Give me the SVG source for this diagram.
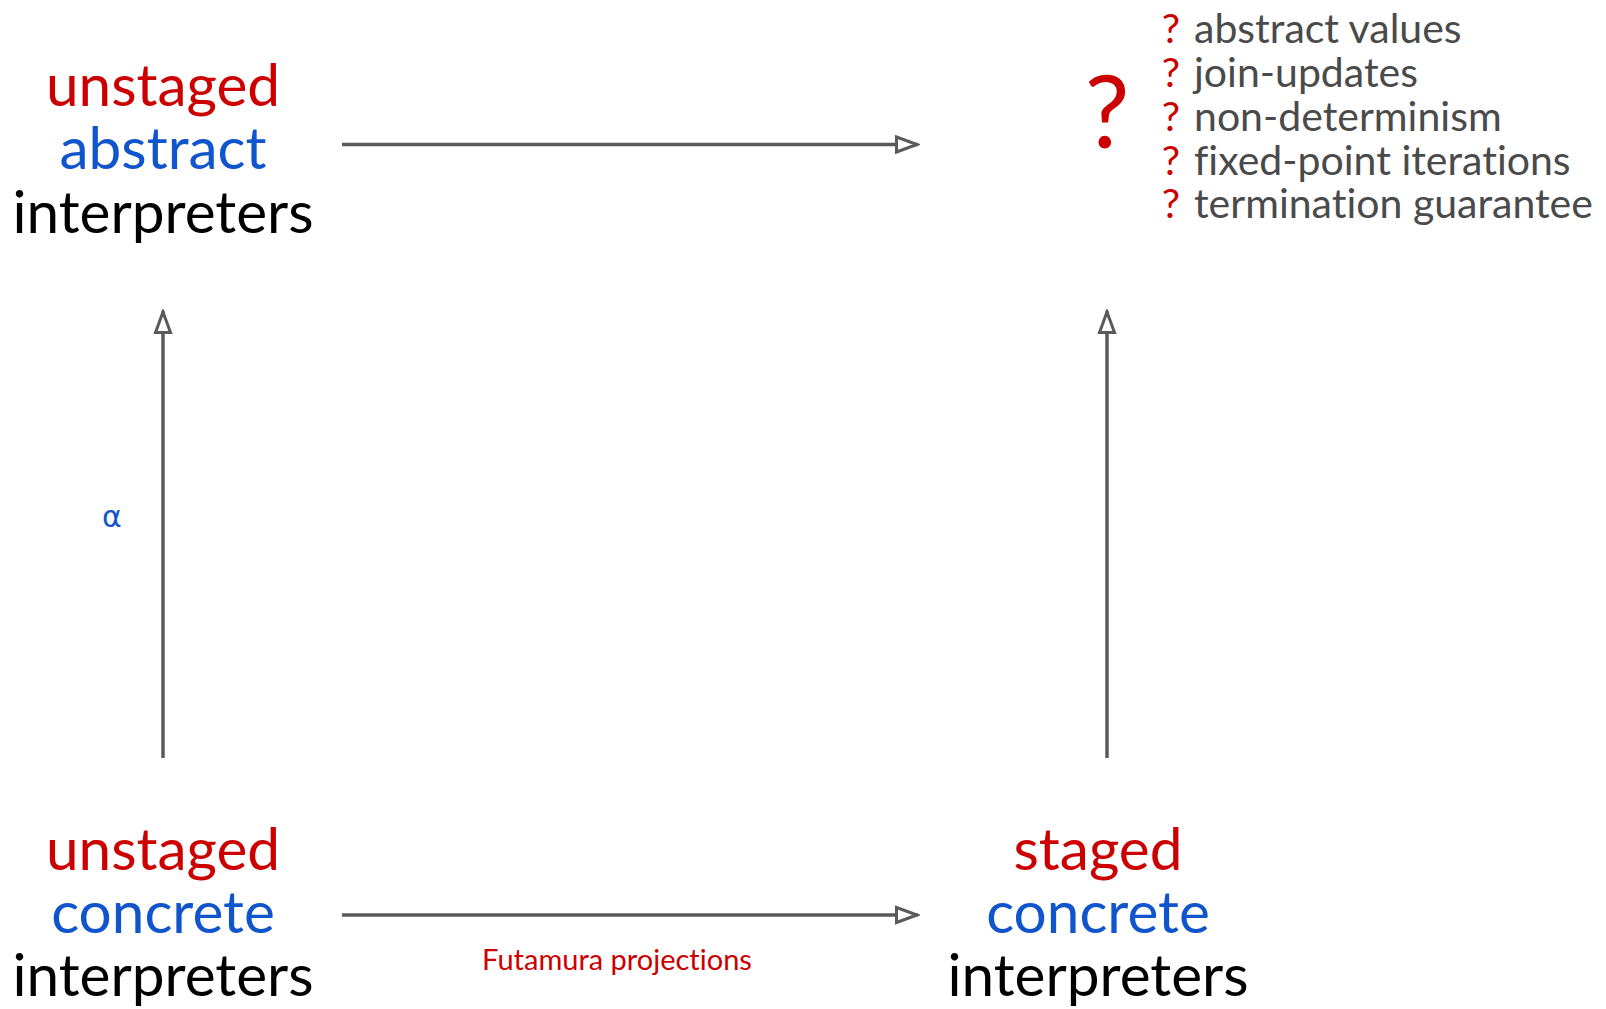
<svg xmlns="http://www.w3.org/2000/svg" width="1606" height="1009" viewBox="0 0 1606 1009">
  <style>
    text { font-family: Lato, "Open Sans", "DejaVu Sans", sans-serif; font-variant-ligatures: none; }
    .big { font-size: 58.5px; text-anchor: middle; }
    .red { fill: #cc0000; }
    .blue { fill: #1155cc; }
    .black { fill: #000000; }
    .item { font-size: 41px; fill: #4a4a4a; }
    .q { font-size: 41px; fill: #cc0000; text-anchor: middle; }
    .edge { stroke: #5a5a5a; stroke-width: 3.5; fill: none; marker-end: url(#head); }
  </style>
  <defs>
    <marker id="head" viewBox="0 0 26 20" refX="24" refY="10" markerWidth="26" markerHeight="20" markerUnits="userSpaceOnUse" orient="auto">
      <path d="M2.5,2.5 L23,10 L2.5,17.5 Z" fill="#ffffff" stroke="#5a5a5a" stroke-width="3"/>
    </marker>
  </defs>
  <rect width="1606" height="1009" fill="#ffffff"/>

  <g id="connectors">
    <line class="edge" x1="342" y1="144.5" x2="918" y2="144.5"/>
    <line class="edge" x1="342" y1="915" x2="918" y2="915"/>
    <line class="edge" x1="163" y1="758" x2="163" y2="311"/>
    <line class="edge" x1="1107" y1="758" x2="1107" y2="311"/>
    <text x="112" y="527" font-size="30" fill="#1155cc" text-anchor="middle" style="font-family: 'DejaVu Sans', sans-serif">α</text>
    <text x="617" y="970" font-size="29" fill="#cc0000" text-anchor="middle">Futamura projections</text>
  </g>

  <g id="unstaged-abstract">
    <text class="big red" x="163" y="106">unstaged</text>
    <text class="big blue" x="163" y="169">abstract</text>
    <text class="big black" x="163" y="233">interpreters</text>
  </g>

  <g id="unstaged-concrete">
    <text class="big red" x="163" y="870">unstaged</text>
    <text class="big blue" x="163" y="933">concrete</text>
    <text class="big black" x="163" y="996">interpreters</text>
  </g>

  <g id="staged-concrete">
    <text class="big red" x="1098" y="870">staged</text>
    <text class="big blue" x="1098" y="933">concrete</text>
    <text class="big black" x="1098" y="996">interpreters</text>
  </g>

  <g id="staged-abstract">
    <text x="1107" y="148" font-size="100" fill="#cc0000" text-anchor="middle">?</text>
    <text class="q" x="1171" y="43">?</text>
    <text class="item" x="1194" y="43">abstract values</text>
    <text class="q" x="1171" y="87">?</text>
    <text class="item" x="1194" y="87">join-updates</text>
    <text class="q" x="1171" y="131">?</text>
    <text class="item" x="1194" y="131">non-determinism</text>
    <text class="q" x="1171" y="175">?</text>
    <text class="item" x="1194" y="175">fixed-point iterations</text>
    <text class="q" x="1171" y="218">?</text>
    <text class="item" x="1194" y="218">termination guarantee</text>
  </g>
</svg>
